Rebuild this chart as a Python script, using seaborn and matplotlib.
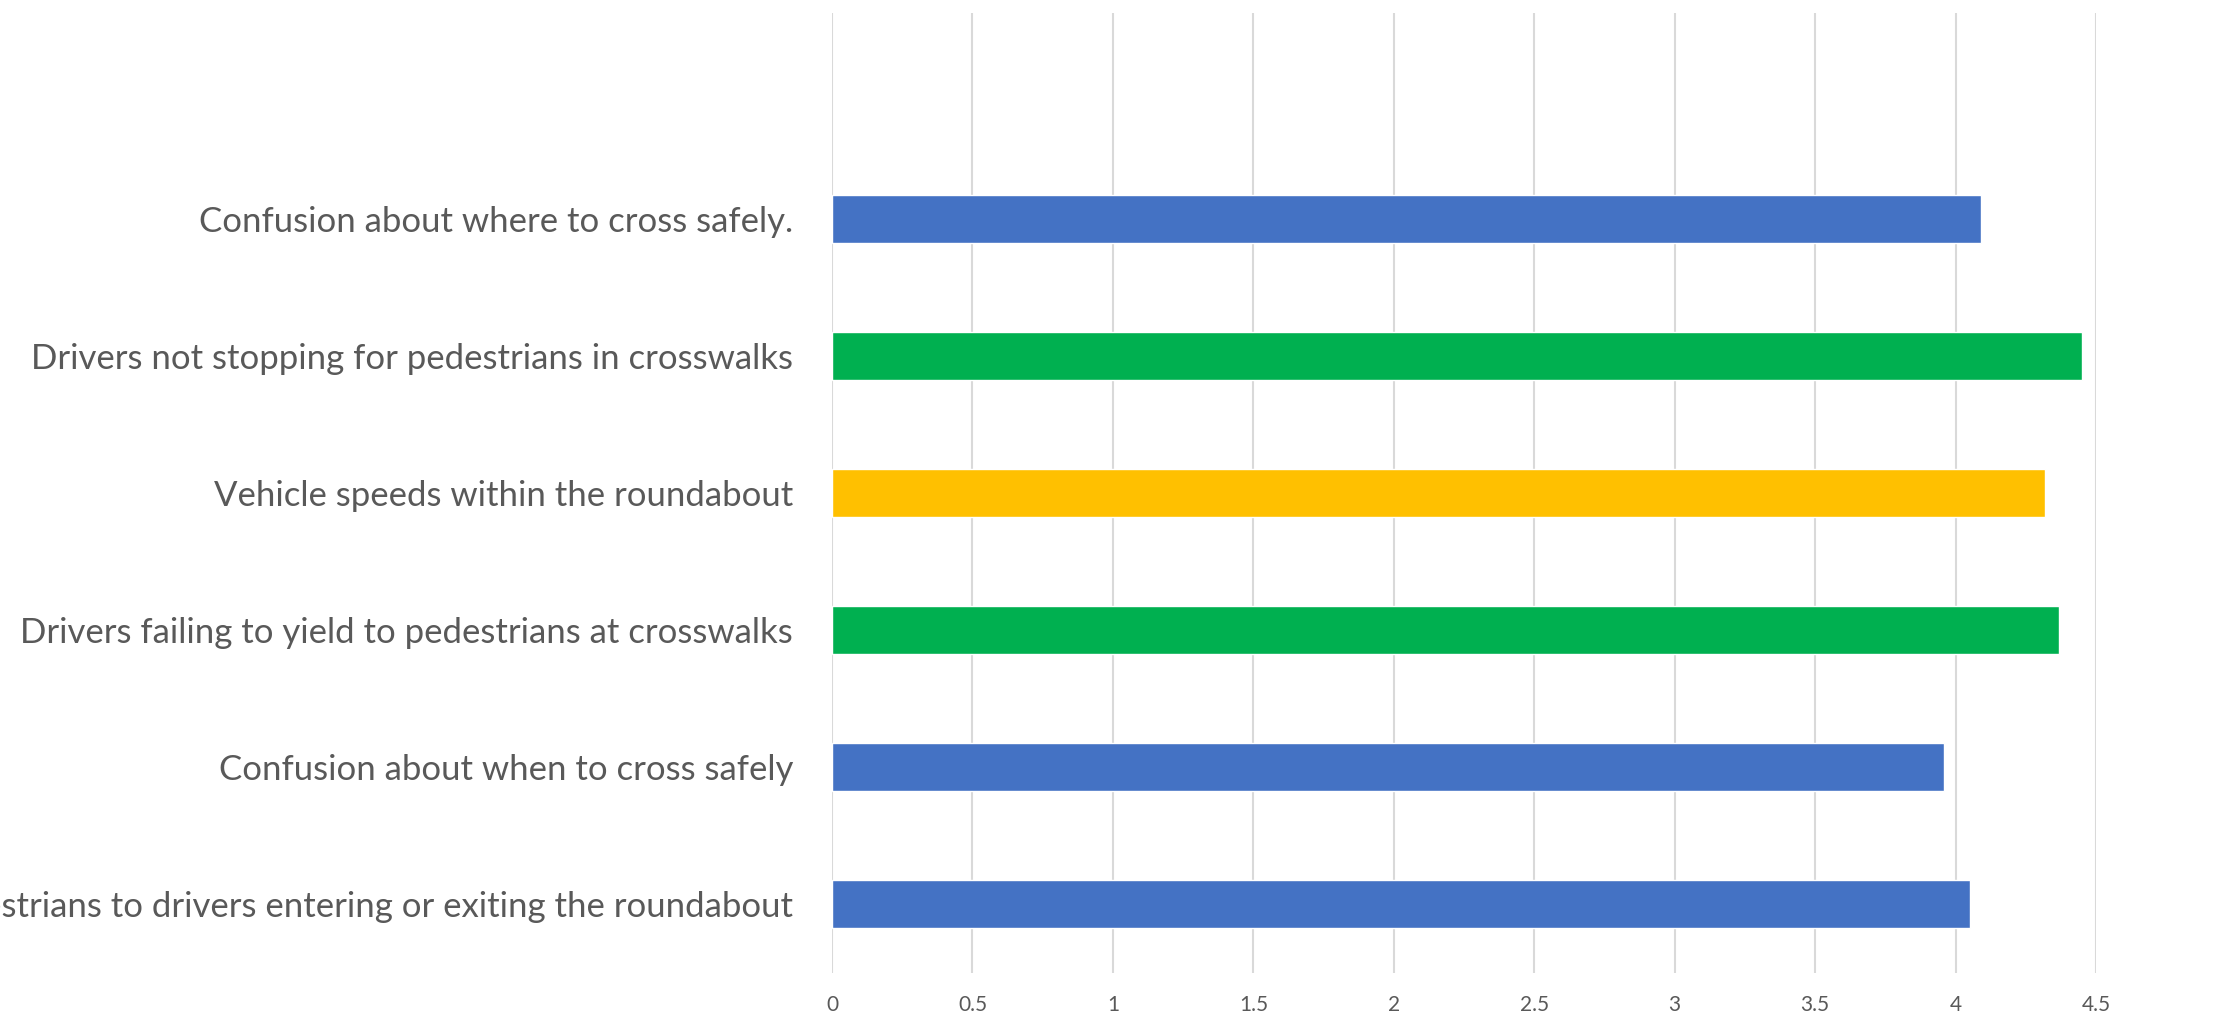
import matplotlib
matplotlib.use("Agg")
import matplotlib.pyplot as plt
import seaborn as sns
import pandas as pd

# Data (top to bottom)
categories = [
    "Confusion about where to cross safely.",
    "Drivers not stopping for pedestrians in crosswalks",
    "Vehicle speeds within the roundabout",
    "Drivers failing to yield to pedestrians at crosswalks",
    "Confusion about when to cross safely",
    "Visibility of pedestrians to drivers entering or exiting the roundabout",
]
scores = [4.09, 4.45, 4.32, 4.37, 3.96, 4.05]
bar_colors = ["#4472C4", "#00B050", "#FFC000", "#00B050", "#4472C4", "#4472C4"]
x_ticks = [0, 0.5, 1, 1.5, 2, 2.5, 3, 3.5, 4, 4.5]
x_tick_labels = ["0", "0.5", "1", "1.5", "2", "2.5", "3", "3.5", "4", "4.5"]

df = pd.DataFrame({"issue": categories, "score": scores})

sns.set_style("white")
plt.rcParams["font.family"] = ["Lato", "DejaVu Sans"]

fig = plt.figure(figsize=(22.27, 10.18), dpi=100)
ax = fig.add_axes([832 / 2227, 1 - 973 / 1018, (2096 - 832) / 2227, (973 - 13) / 1018])

sns.barplot(data=df, x="score", y="issue", hue="issue", palette=bar_colors,
            orient="h", width=0.35, legend=False, ax=ax, saturation=1)

# extra empty room above the first bar, as in the original
ax.set_xlim(0, 4.5)
ax.set_ylim(5.5, -1.5)
ax.set_xticks(x_ticks)
ax.set_xticklabels(x_tick_labels)
ax.xaxis.grid(True, color="#d9d9d9", linewidth=1.5)
ax.set_axisbelow(True)
for s in ax.spines.values():
    s.set_visible(False)

ax.tick_params(axis="x", length=0, pad=16, labelsize=15, labelcolor="#595959")
ax.tick_params(axis="y", length=0, pad=28, labelsize=25, labelcolor="#595959")
ax.set_xlabel("")
ax.set_ylabel("")

fig.savefig("out.png", dpi=100)
